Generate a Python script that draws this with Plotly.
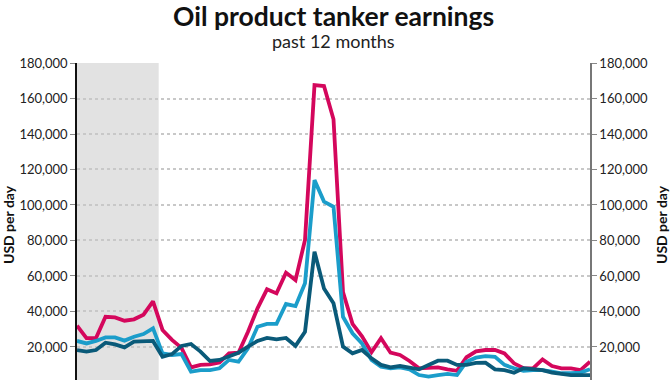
import plotly.graph_objects as go

weeks = list(range(55))

pink = [32000, 25000, 25000, 37000, 36700, 34800, 35600, 38200, 45700, 29600,
        24000, 19500, 8500, 9900, 10200, 11200, 16400, 16800, 28600, 41800,
        52500, 50200, 61900, 57700, 80300, 167500, 167000, 148300, 51000, 33000,
        26000, 17000, 25000, 16800, 15500, 12100, 8000, 8500, 8500, 7400,
        6600, 14200, 17500, 18300, 18300, 16400, 10800, 8000, 8000, 13000,
        9300, 8000, 8000, 7000, 11700]

light_blue = [23400, 22000, 23400, 25400, 25400, 23600, 25800, 27300, 30500, 16400,
              15500, 16000, 6100, 7000, 7000, 8000, 12700, 11700, 19300, 31400,
              33000, 33000, 44200, 43000, 55900, 114000, 101900, 99000, 37000, 27700,
              22000, 12700, 8900, 8000, 8500, 7400, 4200, 3300, 4200, 4800,
              4200, 11700, 14000, 14900, 14500, 9900, 8000, 6600, 7000, 7000,
              6100, 5200, 5200, 5600, 7400]

dark_blue = [18300, 17400, 18300, 22400, 21500, 19800, 23000, 23400, 23400, 14500,
             16000, 20600, 21700, 17400, 12100, 12700, 14500, 16800, 20200, 23400,
             25100, 24300, 25100, 20600, 28600, 73700, 53000, 44600, 20200, 16400,
             18300, 13600, 9900, 8500, 9300, 8500, 7400, 9900, 12300, 12300,
             9900, 9900, 11000, 11200, 7400, 7000, 5500, 8000, 7400, 7000,
             5600, 4800, 4200, 4200, 4200]

shade_end = 8.6

y_ticks = [20000, 40000, 60000, 80000, 100000, 120000, 140000, 160000, 180000]
y_range = [1400, 180000]

PLOT_TOP = 63
PLOT_H = 380 - PLOT_TOP
PLOT_W = 670 - 77 - 80


def paper_y(px):
    return (380 - px) / PLOT_H


fig = go.Figure()
fig.add_shape(type="rect", xref="x", yref="y", x0=0, x1=shade_end,
              y0=y_range[0], y1=y_range[1], fillcolor="#e2e2e2",
              line_width=0, layer="below")

for vals, col in [(pink, "#d4075c"), (light_blue, "#1b9dca"), (dark_blue, "#0a5a79")]:
    fig.add_trace(go.Scatter(x=weeks, y=vals, mode="lines",
                             line=dict(color=col, width=3.8), showlegend=False,
                             hoverinfo="skip"))

fig.add_trace(go.Scatter(x=[weeks[0]], y=[y_range[1]], yaxis="y2", mode="lines",
                         line=dict(width=0), showlegend=False, hoverinfo="skip"))

tick_font = dict(family="Lato", size=13, color="#222")
axis_title_font = dict(family="Lato", size=14, color="#111")

fig.update_layout(
    width=670, height=380,
    margin=dict(l=77, r=80, t=PLOT_TOP, b=0, autoexpand=False),
    paper_bgcolor="white", plot_bgcolor="white",
    annotations=[
        dict(text="<b>Oil product tanker earnings</b>", x=0.5, xref="paper",
             y=paper_y(16), yref="paper", xanchor="center", yanchor="middle",
             showarrow=False, borderpad=0,
             font=dict(family="Lato", size=26.5, color="#111")),
        dict(text="past 12 months", x=0.5, xref="paper", y=paper_y(41.5),
             yref="paper", xanchor="center", yanchor="middle", showarrow=False,
             borderpad=0, font=dict(family="Lato", size=18, color="#222")),
        dict(text="<b>USD per day</b>", x=-68 / PLOT_W, xref="paper", y=paper_y(225),
             yref="paper", xanchor="center", yanchor="middle", showarrow=False,
             textangle=-90, font=axis_title_font),
        dict(text="<b>USD per day</b>", x=1 + 72 / PLOT_W, xref="paper", y=paper_y(225),
             yref="paper", xanchor="center", yanchor="middle", showarrow=False,
             textangle=-90, font=axis_title_font),
    ],
    xaxis=dict(range=[0, 54], showgrid=False, zeroline=False, showticklabels=False,
               showline=False, fixedrange=True, automargin=False),
    yaxis=dict(range=y_range, tickvals=y_ticks, tickformat=",d", ticks="outside",
               ticklen=5, tickcolor="#888", showline=True, linecolor="#111", linewidth=1.5,
               showgrid=True, gridcolor="#c8c8c8", griddash="dot", gridwidth=1.5,
               zeroline=False, tickfont=tick_font, automargin=False),
    yaxis2=dict(range=y_range, tickvals=y_ticks, tickformat=",d", ticks="outside",
                ticklen=5, tickcolor="#888", showline=True, linecolor="#777", linewidth=1.5,
                overlaying="y", side="right", showgrid=False, zeroline=False,
                tickfont=tick_font, automargin=False),
)

fig.write_html("out.html", config={"displayModeBar": False})

# remove the default page margin so the figure sits at the window's top-left corner
with open("out.html", encoding="utf-8") as f:
    html = f.read()
html = html.replace("<head>", "<head><style>html,body{margin:0;padding:0;overflow:hidden;}</style>", 1)
with open("out.html", "w", encoding="utf-8") as f:
    f.write(html)
